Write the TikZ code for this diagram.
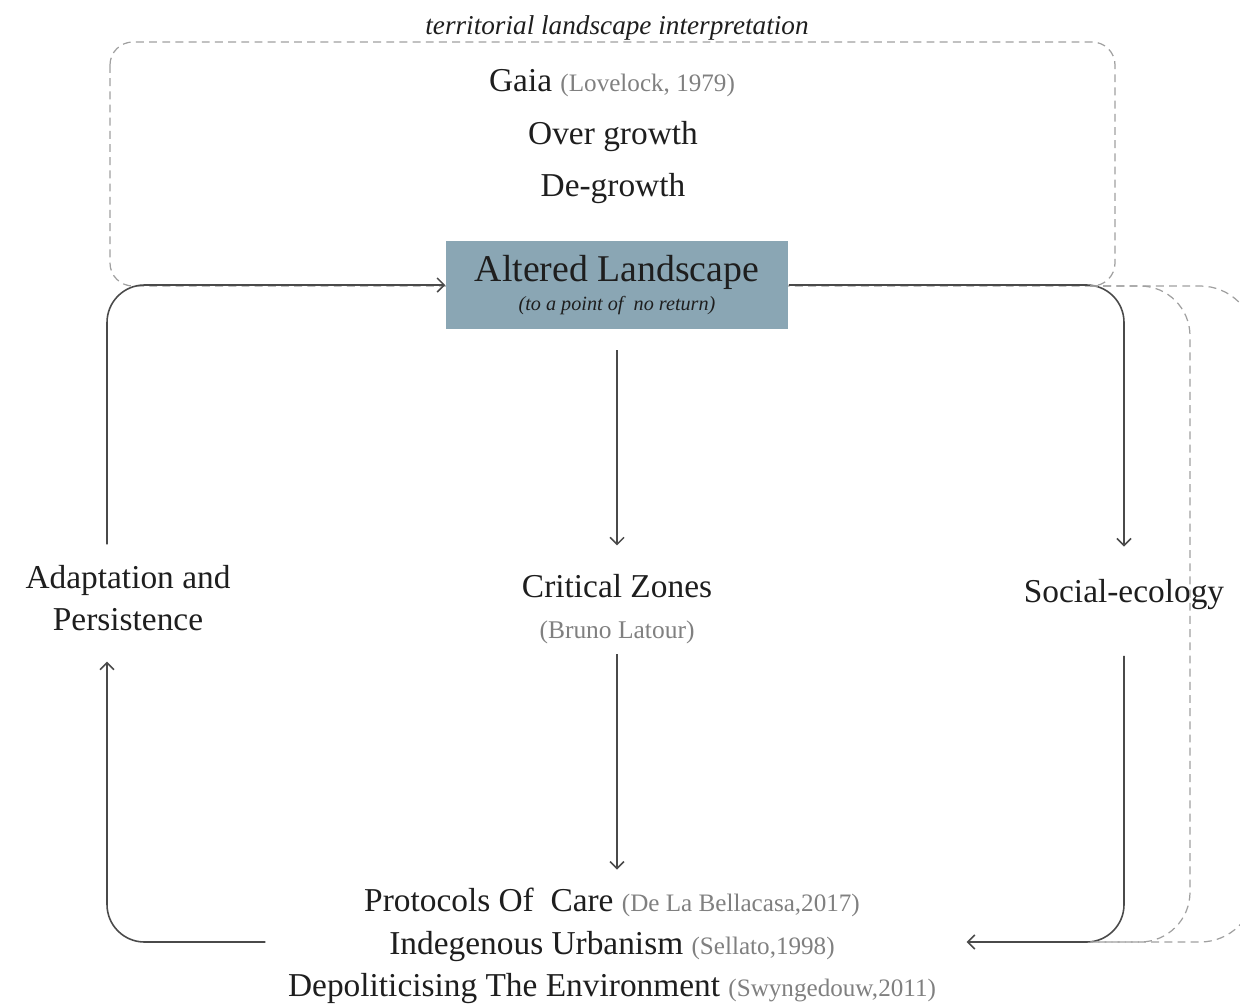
\documentclass[tikz,border=0pt]{standalone}
\usepackage{fontspec}
\setmainfont{Liberation Serif}
\usetikzlibrary{arrows.meta, positioning}
\definecolor{cbox}{HTML}{8AA6B4}
\definecolor{cline}{HTML}{4A4A4A}
\definecolor{cdash}{HTML}{A0A0A0}
\definecolor{cnote}{HTML}{808080}
\definecolor{cink}{HTML}{1E1E1E}
\newcommand{\srcref}[1]{{\fontsize{14.3}{17}\selectfont\color{cnote}#1}}
\tikzset{
  every picture/.style={line width=0.9pt},
  term/.style={font=\fontsize{19}{24}\selectfont, text=cink, align=center, inner sep=0pt},
  altbox/.style={fill=cbox, text=cink, align=center, inner sep=0pt, minimum width=6.84cm, minimum height=1.78cm},
  flow/.style={draw=cline, rounded corners=0.75cm, -{Straight Barb[length=1.4mm, width=2.8mm]}},
  framedash/.style={draw=cdash, line width=0.7pt, dash pattern=on 4.5pt off 3pt},
}

\begin{document}
\begin{tikzpicture}[x=0.02cm, y=-0.02cm]
  \clip (0,0) rectangle (1240,1007);
  % dashed frame round the interpretations
  \draw[framedash, rounded corners=0.46cm] (110,42) rectangle (1115,286);
  \node[font=\fontsize{15.5}{18}\selectfont\itshape, text=cink, inner sep=0pt] (frametitle) at (617,28) {territorial landscape interpretation};
  \node[term] (gaia) at (612,83) {Gaia \srcref{(Lovelock, 1979)}};
  \node[term] (overgrowth) at (613,137) {Over growth};
  \node[term] (degrowth) at (613,189) {De-growth};

  \node[altbox] (altered) at (617,285) {{\fontsize{21.5}{26}\selectfont Altered Landscape}\\[3pt]{\fontsize{11.5}{14}\selectfont\itshape (to a point of \ no return)}};

  \node[term] (adapt) at (128,598) {Adaptation and\\Persistence};
  \node[term] (critical) at (617,586) {Critical Zones};
  \node[font=\fontsize{14.5}{17}\selectfont, text=cnote, inner sep=0pt] (latour) at (617,632) {(Bruno Latour)};
  \node[term] (social) at (1124,595) {Social-ecology};
  \node[term] (protocols) at (612,946) {Protocols Of \ Care \srcref{(De La Bellacasa,2017)}\\Indegenous Urbanism \srcref{(Sellato,1998)}\\Depoliticising The Environment \srcref{(Swyngedouw,2011)}};

  % the loop
  \draw[flow, shorten <=0.4cm, shorten >=0.56cm] (altered.south) -- (critical.north);
  \draw[flow, shorten <=0.2cm, shorten >=0.36cm] (latour.south) -- (latour.south |- protocols.north);
  \draw[flow, shorten >=0.65cm] (altered.east) -| (social.north);
  \draw[flow, shorten <=0.9cm, shorten >=0.6cm] (social.south) |- ([yshift=0.08cm]protocols.east);
  \draw[flow, shorten <=0.4cm] ([xshift=-0.42cm]adapt.north) |- (altered.west);
  \draw[flow, shorten <=0.44cm, shorten >=0.6cm] ([yshift=0.08cm]protocols.west) -| ([xshift=-0.42cm]adapt.south);

  % dashed returns on the right
  \draw[framedash, rounded corners=1cm] (1090,286) -- (1190,286) -- (1190,942) -- (1090,942);
  \draw[framedash, rounded corners=1.1cm] (1090,286) -- (1255,286) -- (1255,942) -- (1090,942);
\end{tikzpicture}
\end{document}
